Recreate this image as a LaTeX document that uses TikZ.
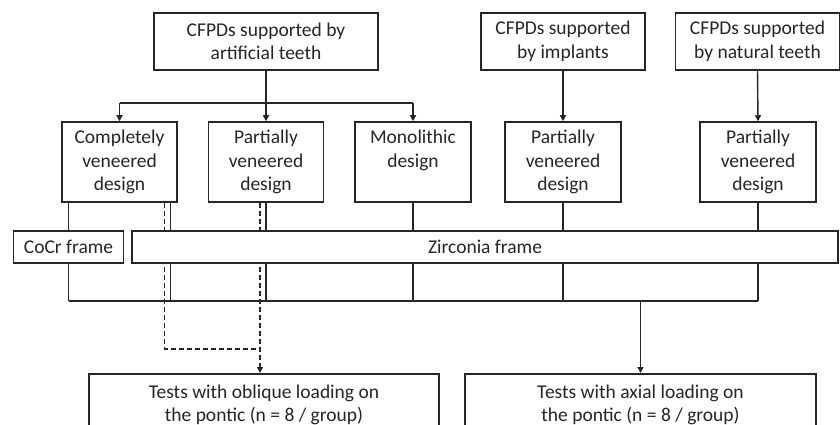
\documentclass[tikz,border=0pt]{standalone}
\usepackage{fontspec}
\setmainfont{Carlito}
\usetikzlibrary{arrows.meta,backgrounds}
\definecolor{ink}{HTML}{262626}
\begin{document}
\begin{tikzpicture}[x=1pt,y=-1pt,
  box/.style={draw=ink,line width=1.5pt,fill=white,inner sep=0pt,align=center,
    text=ink,font=\fontsize{19.5}{23.5}\selectfont},
  conn/.style={draw=ink,line width=1.4pt},
  arr/.style={conn,-{Triangle[length=6pt,width=6pt]}},
  dsh/.style={conn,dash pattern=on 5pt off 3pt}]
\useasboundingbox (0,0) rectangle (840,425);
\clip (0,0) rectangle (840,425);
% top row
\node[box,minimum width=224pt,minimum height=57pt] (top1) at (266,41.5) {CFPDs supported by\\artificial teeth};
\node[box,minimum width=164pt,minimum height=57pt] (top2) at (563,41.5) {CFPDs supported\\by implants};
\node[box,minimum width=164pt,minimum height=57pt] (top3) at (757.5,41.5) {CFPDs supported\\by natural teeth};
% design row
\node[box,minimum width=115pt,minimum height=80pt] (comp) at (119.5,162) {Completely\\veneered\\design};
\node[box,minimum width=115pt,minimum height=80pt] (part1) at (266,162) {Partially\\veneered\\design};
\node[box,minimum width=116pt,minimum height=80pt] (mono) at (413,162) {Monolithic\\design\\\phantom{design}};
\node[box,minimum width=116pt,minimum height=80pt] (part2) at (563,162) {Partially\\veneered\\design};
\node[box,minimum width=116pt,minimum height=80pt] (part3) at (758,162) {Partially\\veneered\\design};
% frames
\node[box,minimum width=110pt,minimum height=32pt] (cocr) at (68.5,247) {CoCr frame};
\node[box,minimum width=706pt,minimum height=32pt] (zirc) at (485,247) {Zirconia frame};
% tests
\node[box,minimum width=350pt,minimum height=62pt,anchor=north] (obl) at (264,373) {Tests with oblique loading on\\the pontic (n = 8 / group)};
\node[box,minimum width=351pt,minimum height=62pt,anchor=north] (axl) at (640.5,373) {Tests with axial loading on\\the pontic (n = 8 / group)};
\coordinate (br) at (0,103);
\coordinate (bus) at (0,301);
\coordinate (dj) at (0,349);
\begin{scope}[on background layer]
% branching from top1
\draw[arr] (top1.south) -- (part1.north);
\draw[conn] (comp.north |- br) -- (mono.north |- br);
\draw[arr] (comp.north |- br) -- (comp.north);
\draw[arr] (mono.north |- br) -- (mono.north);
\draw[arr] (top2.south) -- (part2.north);
\draw[arr] (top3.south) -- (part3.north);
% solid lines down to the bus
\draw[conn] (cocr.north |- comp.south) -- (cocr.south |- bus);
\draw[conn] ([xshift=-7pt]comp.south east) -- ([xshift=-7pt]comp.south east |- bus);
\draw[conn] (part1.south) -- (part1.south |- bus);
\draw[conn] (mono.south) -- (mono.south |- bus);
\draw[conn] (part2.south) -- (part2.south |- bus);
\draw[conn] (part3.south) -- (part3.south |- bus);
\draw[conn] (cocr.south |- bus) -- (part3.south |- bus);
\draw[arr] (axl.north |- bus) -- (axl.north);
% dashed paths
\draw[dsh] ([xshift=-13pt]comp.south east) -- ([xshift=-13pt]comp.south east |- dj) -- ([xshift=-6pt]part1.south |- dj);
\draw[dsh,-{Triangle[length=6pt,width=6pt]}] ([xshift=-6pt]part1.south) -- ([xshift=-6pt]part1.south |- obl.north);
\end{scope}
\end{tikzpicture}
\end{document}
